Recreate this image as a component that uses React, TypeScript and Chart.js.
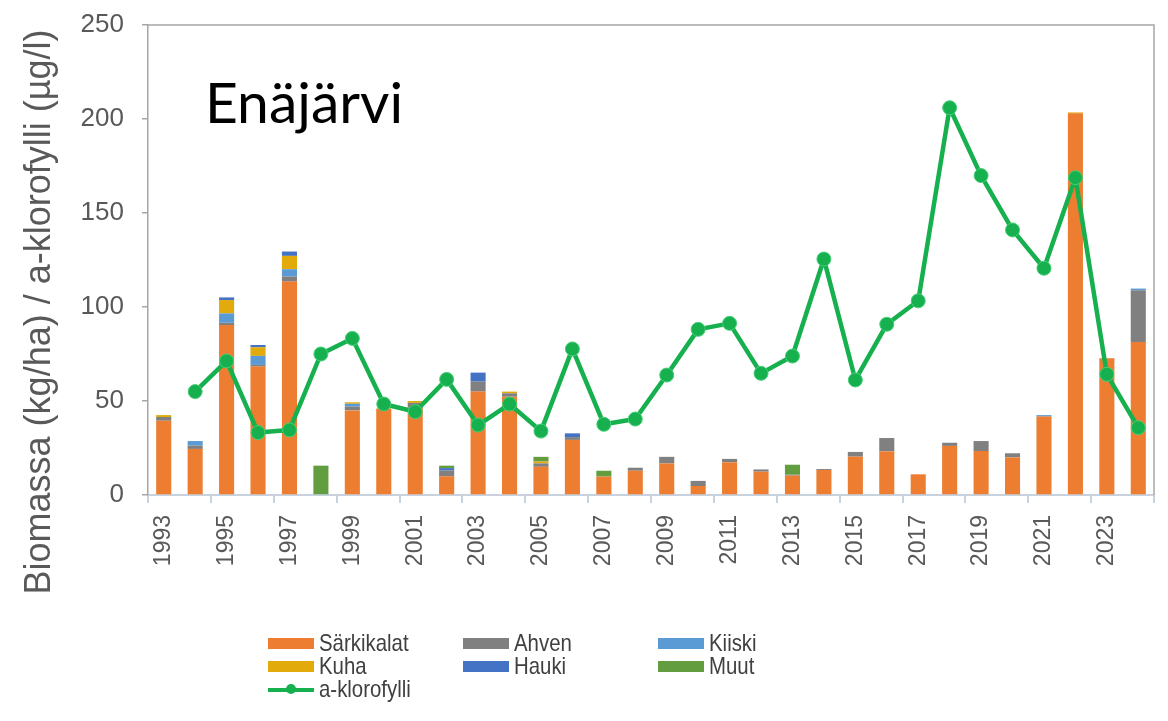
import React, { useEffect, useRef } from 'react';
import { Chart, registerables } from 'chart.js';

Chart.register(...registerables);

const years = [
  '1993', '1994', '1995', '1996', '1997', '1998', '1999', '2000', '2001', '2002', '2003',
  '2004', '2005', '2006', '2007', '2008', '2009', '2010', '2011', '2012', '2013', '2014',
  '2015', '2016', '2017', '2018', '2019', '2020', '2021', '2022', '2023', '2024',
];

const sarkikalat = [39.5, 24.5, 90.4, 68.3, 113.5, 0, 45, 46, 46.5, 10, 55, 52.3, 15, 29.3, 9.8, 12.9, 16.8, 4.8, 17.4, 12.4, 10.3, 13.3, 20.4, 23.2, 11, 26.1, 23.4, 20, 41.7, 203, 72.7, 81.4];
const ahven = [2, 1.8, 1.2, 0.9, 2.7, 0, 2, 0, 2.5, 3, 5.3, 1.8, 1.8, 1.5, 0, 1.6, 3.5, 2.7, 1.8, 1.2, 0.5, 0.5, 2.5, 7.1, 0, 1.7, 5.3, 2.2, 0, 0, 0, 27.5];
const kiiski = [0, 2.4, 5, 4.8, 3.9, 0, 1.5, 0, 0, 0, 0, 0, 0, 0, 0, 0, 0, 0, 0, 0, 0, 0, 0, 0, 0, 0, 0, 0, 0.8, 0, 0, 0.9];
const kuha = [1, 0, 7.1, 4.6, 7.1, 0, 0.8, 0, 1, 0, 0, 0.9, 1, 0, 0, 0, 0, 0, 0, 0, 0, 0, 0, 0, 0, 0, 0, 0, 0, 0.5, 0, 0];
const hauki = [0, 0, 1.4, 1.2, 2.3, 0, 0, 0, 0, 1.3, 4.8, 0, 0, 2, 0, 0, 0, 0, 0, 0, 0, 0, 0, 0, 0, 0, 0, 0, 0, 0, 0, 0];
const muut = [0, 0, 0, 0, 0, 15.6, 0, 0, 0, 1.3, 0, 0, 2.5, 0, 3.1, 0, 0, 0, 0, 0, 5.3, 0, 0, 0, 0, 0, 0, 0, 0, 0, 0, 0];
const klorofylli = [null, 55, 71.3, 33.2, 34.6, 75, 83.3, 48.4, 44.3, 61.5, 37.2, 48.4, 34, 77.7, 37.6, 40.4, 63.8, 88.1, 91.3, 64.7, 73.9, 125.5, 61.2, 90.8, 103.3, 206, 169.9, 141, 120.6, 168.8, 64.2, 35.8];

const seriesNames = ['Särkikalat', 'Ahven', 'Kiiski', 'Kuha', 'Hauki', 'Muut'];
const seriesValues = [sarkikalat, ahven, kiiski, kuha, hauki, muut];
const seriesColors = ['#ED7D31', '#808080', '#5B9BD5', '#E2AA0A', '#4472C4', '#629E3F'];
const lineName = 'a-klorofylli';
const lineColor = '#16B04E';
const chartTitle = 'Enäjärvi';
const yAxisTitle = 'Biomassa (kg/ha) / a-klorofylli (µg/l)';

const W = 1168;
const H = 721;

const legendOrder = [
  { name: seriesNames[0], color: seriesColors[0], line: false },
  { name: seriesNames[1], color: seriesColors[1], line: false },
  { name: seriesNames[2], color: seriesColors[2], line: false },
  { name: seriesNames[3], color: seriesColors[3], line: false },
  { name: seriesNames[4], color: seriesColors[4], line: false },
  { name: seriesNames[5], color: seriesColors[5], line: false },
  { name: lineName, color: lineColor, line: true },
];

const overlayPlugin = {
  id: 'overlayText',
  afterDraw(chart: any) {
    const { ctx, chartArea } = chart;
    ctx.save();
    ctx.strokeStyle = '#a6a6a6';
    ctx.lineWidth = 1.5;
    ctx.beginPath();
    ctx.moveTo(chartArea.left, chartArea.top);
    ctx.lineTo(chartArea.right, chartArea.top);
    ctx.lineTo(chartArea.right, chartArea.bottom);
    ctx.stroke();

    ctx.fillStyle = '#000000';
    ctx.font = '57px Lato, "Open Sans", sans-serif';
    ctx.textAlign = 'left';
    ctx.textBaseline = 'alphabetic';
    ctx.fillText(chartTitle, chartArea.left + 57, chartArea.top + 98);

    ctx.translate(40, 312);
    ctx.rotate(-Math.PI / 2);
    ctx.font = '36px "Liberation Sans", Arial, sans-serif';
    ctx.fillStyle = '#595959';
    ctx.textAlign = 'center';
    ctx.textBaseline = 'middle';
    ctx.fillText(yAxisTitle, 0, 0);
    ctx.restore();
  },
};

export default function App() {
  const canvasRef = useRef<HTMLCanvasElement | null>(null);

  useEffect(() => {
    if (!canvasRef.current) return;
    const barSets = seriesNames.map((name, i) => ({
      type: 'bar' as const,
      label: name,
      data: seriesValues[i],
      backgroundColor: seriesColors[i],
      borderWidth: 0,
      stack: 'fish',
      order: 1,
      barPercentage: 0.48,
      categoryPercentage: 1,
    }));
    const lineSet = {
      type: 'line' as const,
      label: lineName,
      data: klorofylli,
      borderColor: lineColor,
      backgroundColor: lineColor,
      borderWidth: 4.5,
      borderJoinStyle: 'round' as const,
      pointRadius: 7,
      pointBackgroundColor: lineColor,
      pointBorderColor: '#45cf78',
      pointBorderWidth: 1,
      tension: 0,
      stack: 'chl',
      order: 0,
    };
    const tickGridColor = '#c8d2df';
    const chart = new Chart(canvasRef.current, {
      type: 'bar',
      data: { labels: years, datasets: [...barSets, lineSet] as any },
      plugins: [overlayPlugin],
      options: {
        animation: false,
        responsive: false,
        maintainAspectRatio: false,
        devicePixelRatio: 1,
        layout: { padding: { top: 25, right: 14, left: 0, bottom: 0 } },
        plugins: {
          legend: { display: false },
          tooltip: { enabled: false },
          title: { display: false },
        },
        scales: {
          x: {
            stacked: true,
            offset: true,
            grid: {
              offset: true,
              drawOnChartArea: false,
              tickLength: 8,
              lineWidth: 2,
              color: (c: any) => (c.index === undefined || c.index % 2 === 0 ? tickGridColor : 'rgba(0,0,0,0)'),
            },
            border: { color: tickGridColor, width: 2 },
            ticks: {
              autoSkip: false,
              maxRotation: 90,
              minRotation: 90,
              padding: 12,
              color: '#595959',
              font: { family: '"Liberation Sans", Arial, sans-serif', size: 23, lineHeight: 0.5 },
              callback: (_v: any, i: number) => (i % 2 === 0 ? years[i] : ''),
            },
            afterFit: (s: any) => {
              s.height = H - 495;
            },
          },
          y: {
            stacked: true,
            min: 0,
            max: 250,
            ticks: {
              stepSize: 50,
              padding: 18,
              color: '#595959',
              font: { family: '"Liberation Sans", Arial, sans-serif', size: 26, lineHeight: 0.5 },
            },
            grid: { drawOnChartArea: false, color: '#a6a6a6', tickLength: 6, lineWidth: 1.5 },
            border: { color: '#a6a6a6', width: 1.5 },
            afterFit: (s: any) => {
              s.width = 148;
            },
          },
        },
      } as any,
    });
    return () => chart.destroy();
  }, []);

  const legendFont = '24px "Liberation Sans", Arial, sans-serif';

  return (
    <div style={{ position: 'fixed', left: 0, top: 0, width: W, height: H, background: '#ffffff', overflow: 'hidden' }}>
      <canvas ref={canvasRef} width={W} height={H} style={{ position: 'absolute', left: 0, top: 0, width: W, height: H }} />
      {legendOrder.map((item, idx) => {
        const col = idx % 3;
        const row = Math.floor(idx / 3);
        const cx = 268 + col * 195;
        const cy = 643 + row * 23;
        return (
          <div
            key={item.name}
            style={{ position: 'absolute', left: cx, top: cy - 13, height: 26, display: 'flex', alignItems: 'center', whiteSpace: 'nowrap' }}
          >
            {item.line ? (
              <span style={{ position: 'relative', display: 'inline-block', width: 46, height: 11, flex: 'none' }}>
                <span style={{ position: 'absolute', left: 0, top: 4, width: 46, height: 4, background: item.color }} />
                <span style={{ position: 'absolute', left: 18, top: 0.5, width: 10, height: 10, borderRadius: 5, background: item.color }} />
              </span>
            ) : (
              <span style={{ display: 'inline-block', width: 46, height: 11, background: item.color, flex: 'none' }} />
            )}
            <span
              style={{
                marginLeft: 5,
                font: legendFont,
                color: '#404040',
                lineHeight: '26px',
                display: 'inline-block',
                transform: 'scaleX(0.85)',
                transformOrigin: 'left center',
              }}
            >
              {item.name}
            </span>
          </div>
        );
      })}
    </div>
  );
}
